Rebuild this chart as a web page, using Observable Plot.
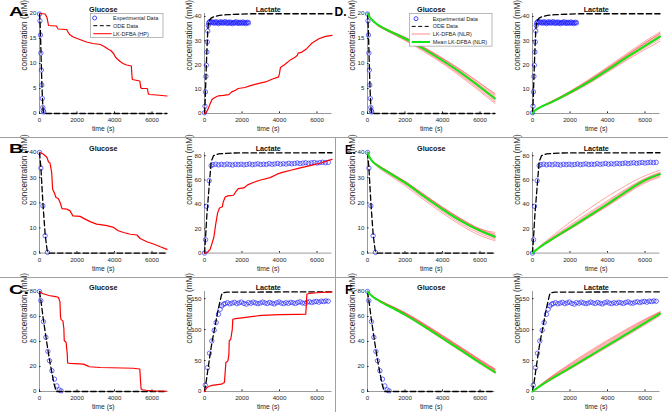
<!DOCTYPE html>
<html><head><meta charset="utf-8">
<script src="https://cdn.jsdelivr.net/npm/d3@7"></script>
<script src="https://cdn.jsdelivr.net/npm/@observablehq/plot@0.6"></script>
<style>
body{margin:0;background:#fff;}
#fig{position:relative;width:668px;height:412px;overflow:hidden;font-family:"Liberation Sans",Arial,sans-serif;background:#fff;}
</style></head><body><div id="fig"></div>
<script>
// ================= DATA =================
// Tick labels
const xTicks = [0, 2000, 4000, 6000];
const yTicksGlc20 = [0, 5, 10, 15, 20];
const yTicksLac20 = [0, 10, 20, 30, 40];
const yTicksGlc40 = [0, 10, 20, 30, 40];
const yTicksLac40 = [0, 20, 40, 60, 80];
const yTicksGlc80 = [0, 20, 40, 60, 80];
const yTicksLac80 = [0, 50, 100, 150];
const titles = ["Glucose", "Lactate"];
const panelLetters = ["A.", "B.", "C.", "D.", "E.", "F."];
const legendHP = ["Experimental Data", "ODE Data", "LK-DFBA (HP)"];
const legendNLR = ["Experimental Data", "ODE Data", "LK-DFBA (NLR)", "Mean LK-DFBA (NLR)"];

// Experimental data, 20 mM
const expGlc20T = [0,25,50,75,100,125,150,175,200,225];
const expGlc20V = [19.9,18.5,15.7,12.1,8.7,5.7,3.0,1.2,0.6,0.3];
const expLac20T = [0,25,50,75,100,125,150,175,200,225,250,300,350,400,450,500,550,600,650,700,750,800,850,900,950,1000,1050,1100,1150,1200,1250,1300,1350,1400,1450,1500,1550,1600,1650,1700,1750,1800,1850,1900,1950,2000,2050,2100,2150,2200,2250,2300,2350];
const expLac20V = [0.3,3.0,8.9,15.3,19.9,25.3,29.5,34.0,36.3,37.2,
  37.6,37.9,37.4,37.8,37.5,37.2,37.7,37.3,37.8,37.4,
  37.0,37.5,37.8,37.3,37.6,37.2,37.5,37.9,37.4,37.1,
  37.6,37.3,37.7,37.2,37.5,37.0,37.4,37.6,37.3,37.8,
  37.2,37.5,37.1,37.6,37.4,37.2,37.7,37.3,37.5,37.0,
  37.4,37.6,37.3];
// Experimental data, 40 mM
const expGlc40T = [0,75,180,300,425];
const expGlc40V = [40,33.8,18.8,6.9,0.3];
const expLac40T = [0,55,110,250,355,450,600,750,900,1050,1200,1350,1500,1650,1800,1950,2100,2250,2400,2550,2700,2850,3000,3150,3300,3450,3600,3750,3900,4050,4200,4350,4500,4650,4800,4950,5100,5250,5400,5550,5700,5850,6000,6150,6300,6450,6600];
const expLac40V = [0,11,38.4,59.5,71.8,
  72.6,73.0,72.4,72.9,72.5,73.1,72.7,72.3,72.9,72.6,
  73.0,72.5,72.8,73.2,72.6,72.9,73.3,72.7,73.0,72.8,
  73.4,72.9,73.2,73.6,73.0,73.4,73.1,73.7,73.3,73.6,
  74.0,73.5,73.9,74.2,73.7,74.1,74.4,73.9,74.3,74.6,
  74.2,74.5];
// Experimental data, 80 mM
const expGlc80T = [0,70,210,340,445,535,660,800,925,1050,1155];
const expGlc80V = [80,72.7,55.9,43.3,32.1,24.6,16.6,9.9,4.5,1.3,0.5];
const expLac80T = [40,160,265,390,515,620,745,835,925,1015,1100,1225,1350,1475,1600,1725,1850,1975,2100,2225,2350,2475,2600,2725,2850,2975,3100,3225,3350,3475,3600,3725,3850,3975,4100,4225,4350,4475,4600,4725,4850,4975,5100,5225,5350,5475,5600,5725,5850,5975,6100,6225,6350,6475,6600];
const expLac80V = [10.2,38.7,61.8,81.7,98.9,111.3,124.7,132.8,138.2,140.9,
  142.0,143.5,141.5,142.8,144.0,141.8,143.2,144.5,142.3,141.0,
  143.6,142.5,144.2,143.0,141.8,142.9,144.4,143.1,142.0,143.8,
  142.6,141.5,143.3,144.6,142.8,141.9,143.5,142.4,144.0,143.2,
  142.1,143.9,144.8,143.0,142.5,144.2,145.0,143.6,144.8,145.5,
  144.2,146.0,145.2,146.3,145.8];

// ODE data
const odeGlc20T = [0,25,50,75,100,125,150,175,200,225,250,6800];
const odeGlc20V = [20,18.7,16.3,12.8,9.3,6.2,3.6,1.6,0.5,0.1,0,0];
const odeLac20T = [0,25,50,75,100,125,150,175,200,250,350,500,800,1200,1800,2500,6800];
const odeLac20V = [0,3,8.5,14.5,20,25.5,30,34,36.5,38.3,39.3,39.9,40.4,40.7,40.9,41.1,41.1];
const odeGlc40T = [0,75,180,300,400,460,6800];
const odeGlc40V = [40,34,20,7.5,1.5,0,0];
const odeLac40T = [0,60,125,250,355,480,750,1500,6800];
const odeLac40V = [0,14,31,55,75,80,81.4,82.2,82.4];
const odeGlc80T = [0,100,200,340,450,550,660,780,890,6800];
const odeGlc80V = [80,70,58,44,33,24,15,6,0,0];
const odeLac80T = [0,100,250,400,550,700,800,900,950,1200,6800];
const odeLac80V = [0,18,50,80,103,128,142,155,159.5,160.5,161];

// LK-DFBA (HP)
const hpGlc20T = [0,300,400,450,480,900,960,1000,1450,1520,1600,1800,2150,2500,2850,3250,3450,3650,3800,3950,4050,4150,4300,4450,4650,4900,4920,4950,5350,5400,5450,5750,5800,5850,6250,6800];
const hpGlc20V = [20,19.9,19.2,18.2,17.6,17.5,17.1,16.9,16.8,16.3,15.8,15.3,14.8,14.3,14.0,13.8,13.4,12.9,12.6,12.0,11.3,10.9,10.4,10.0,9.7,9.5,8.0,6.8,6.5,5.2,5.0,5.0,4.0,3.8,3.7,3.5];
const hpLac20T = [0,100,200,300,400,550,750,1000,1300,1450,1650,1800,2150,2500,2850,3250,3600,3950,4000,4050,4300,4550,4850,4950,5000,5200,5450,5700,6100,6450,6800];
const hpLac20V = [0,0.5,2.0,4.0,5.8,6.6,7.3,7.5,7.8,8.9,9.6,10.3,10.7,11.6,12.3,13.0,14.1,15.1,16.5,19.0,20.3,21.9,23.3,24.0,24.9,25.3,26.7,28.8,30.8,31.8,32.2];
const hpGlc40T = [0,200,400,480,560,650,700,780,880,1000,1100,1200,1450,1630,1780,2170,2430,2700,3050,3600,3950,4200,4480,4850,5200,5370,5720,6080,6440,6800];
const hpGlc40V = [40,39.4,38,36.2,35.8,32,25.4,24.2,22.1,21.7,20.1,17.7,17.5,16.8,14.8,14.6,13.5,12.5,11.5,10.9,10.2,8.9,8.2,7.5,7.2,5.8,4.5,3.6,2.5,1.5];
const hpLac40T = [0,150,300,400,500,600,700,800,950,1000,1100,1250,1550,1650,1800,2100,2300,2600,3000,3500,3900,4200,4600,5000,5400,5800,6200,6500,6800];
const hpLac40V = [0,0.5,3,8,13,24,33,37,38,42,46,47,47.5,50,53,53.5,56,58,60,62,65,66.5,68,69.5,71,72.5,74,75.5,77];
const hpGlc80T = [0,200,500,850,1000,1090,1120,1150,1250,1300,1320,1420,1480,1500,1650,2350,2600,2650,3250,5000,5350,5380,5420,5500,5700,6000,6800];
const hpGlc80V = [79.5,78.2,76.8,75.9,75.4,72,60,57.5,56.5,50,40.8,39.3,30,22.8,22.5,21.9,20.3,19.8,19.2,18.6,18.0,10,2.0,1.4,1.0,0.6,0.2];
const hpLac80T = [0,120,250,400,600,900,1060,1100,1140,1250,1300,1320,1400,1480,1510,1640,2000,2500,3050,4000,5000,5400,5430,5460,5600,6000,6800];
const hpLac80V = [0,6,8.5,10,10.8,11.8,14.5,30,46.8,49.5,60,81.7,84.4,100,116.7,117.7,119,121,123,124,124.7,125,140,157,158.6,159.5,160.8];

// LK-DFBA (NLR) : sample times, individual runs and mean
const nlrT = [0,100,250,500,1000,1500,2000,3000,4000,5000,6000,6800];
const nlrGlc20Mean = [20,19.4,18.7,17.9,16.8,15.9,15.0,12.9,10.6,8.1,5.3,3.0];
const nlrGlc20Runs = [
  [20,19.4,18.7,17.9,16.9,16.0,15.2,13.2,11.0,8.6,6.0,4.0],
  [20,19.4,18.7,17.9,16.9,16.0,15.1,13.1,10.9,8.4,5.7,3.6],
  [20,19.4,18.7,17.9,16.8,15.9,15.0,13.0,10.7,8.2,5.5,3.3],
  [20,19.4,18.7,17.8,16.8,15.9,15.0,12.9,10.6,8.0,5.2,2.9],
  [20,19.4,18.6,17.8,16.7,15.8,14.9,12.8,10.4,7.8,5.0,2.6],
  [20,19.3,18.6,17.7,16.6,15.7,14.7,12.6,10.2,7.6,4.7,2.3],
  [20,19.3,18.6,17.7,16.6,15.6,14.6,12.4,10.0,7.3,4.4,2.0],
  [20,19.4,18.7,17.9,16.9,16.1,15.3,13.3,11.1,8.7,6.1,3.8]];
const nlrLac20Mean = [0,1.0,1.9,2.9,4.6,6.5,8.6,13.0,17.9,23.0,27.9,31.7];
const nlrLac20Runs = [
  [0,1.0,1.9,3.0,5.0,7.0,9.2,14.0,19.2,24.5,29.8,33.6],
  [0,1.0,1.9,3.0,4.9,6.9,9.0,13.7,18.8,24.0,29.2,32.9],
  [0,1.0,1.9,2.9,4.8,6.7,8.8,13.4,18.4,23.6,28.7,32.4],
  [0,1.0,1.9,2.9,4.7,6.6,8.7,13.1,18.1,23.2,28.2,32.0],
  [0,1.0,1.9,2.9,4.6,6.5,8.5,12.9,17.8,22.8,27.7,31.4],
  [0,1.0,1.8,2.8,4.5,6.3,8.3,12.6,17.4,22.3,27.1,30.7],
  [0,0.9,1.8,2.8,4.4,6.2,8.1,12.3,17.0,21.8,26.4,29.8],
  [0,1.0,1.9,3.0,4.9,6.8,8.9,13.5,18.6,23.8,29.0,33.1]];
const nlrGlc40Mean = [40,38.2,36.6,35.0,32.6,30.3,28.0,22.6,17.4,12.7,8.9,6.5];
const nlrGlc40Runs = [
  [40,38.3,36.8,35.3,33.0,30.8,28.6,23.4,18.3,13.6,9.6,7.6],
  [40,38.3,36.7,35.2,32.9,30.6,28.4,23.1,18.0,13.3,9.3,7.2],
  [40,38.2,36.7,35.1,32.7,30.4,28.1,22.8,17.6,12.9,9.0,6.9],
  [40,38.2,36.6,35.0,32.6,30.3,28.0,22.6,17.4,12.6,8.8,6.3],
  [40,38.2,36.6,35.0,32.5,30.2,27.9,22.5,17.2,12.4,8.5,6.0],
  [40,38.1,36.5,34.8,32.2,29.8,27.4,21.9,16.6,11.7,7.8,5.5],
  [40,38.0,36.3,34.5,31.8,29.3,26.8,21.2,15.9,11.0,7.0,4.9],
  [40,38.3,36.8,35.3,33.0,30.7,28.5,23.3,18.2,13.5,9.7,8.2]];
const nlrLac40Mean = [0,1.4,3.2,6.0,11.0,15.9,20.6,30.4,40.3,50.6,59.9,64.8];
const nlrLac40Runs = [
  [0,1.6,3.8,7.2,13.4,19.5,25.4,36.2,46.5,55.6,63.5,68.0],
  [0,1.5,3.4,6.4,11.8,17.0,22.0,32.0,42.0,52.0,60.8,65.8],
  [0,1.4,3.3,6.2,11.3,16.3,21.1,31.0,40.9,51.1,60.3,65.3],
  [0,1.4,3.2,6.0,11.0,15.9,20.6,30.4,40.2,50.5,59.8,64.8],
  [0,1.4,3.2,5.9,10.8,15.6,20.2,29.9,39.6,49.8,59.2,64.2],
  [0,1.3,3.1,5.8,10.6,15.3,19.9,29.5,39.1,49.2,58.5,63.4],
  [0,1.3,3.0,5.7,10.4,15.0,19.5,29.0,38.5,48.4,57.6,62.4],
  [0,1.5,3.5,6.6,12.3,17.8,23.0,33.2,43.0,52.8,61.4,66.3]];
const nlrGlc80Mean = [80,78.3,76.2,73.6,69.3,65.6,61.4,52.3,42.6,32.9,23.0,15.5];
const nlrGlc80Runs = [
  [80,78.4,76.5,74.2,70.4,67.0,63.2,54.5,45.0,35.4,25.6,18.2],
  [80,78.4,76.4,74.0,70.0,66.5,62.6,53.8,44.3,34.6,24.8,17.4],
  [80,78.3,76.3,73.8,69.7,66.1,62.1,53.1,43.5,33.8,24.0,16.6],
  [80,78.3,76.2,73.6,69.4,65.7,61.6,52.5,42.8,33.1,23.3,15.8],
  [80,78.3,76.2,73.5,69.2,65.4,61.2,52.0,42.3,32.6,22.7,15.2],
  [80,78.2,76.1,73.4,69.0,65.1,60.9,51.6,41.8,32.0,22.1,14.5],
  [80,78.4,76.4,74.1,70.2,66.7,62.9,54.1,44.6,35.0,25.2,17.8],
  [80,78.3,76.3,73.9,69.8,66.3,62.3,53.4,43.9,34.2,24.4,17.0]];
const nlrLac80Mean = [0,2.5,5.6,10.6,20.2,29.2,38.1,56.3,74.5,92.6,110.8,125.5];
const nlrLac80Runs = [
  [0,3.0,6.8,12.8,24.2,34.8,45.0,64.5,83.0,100.5,117.0,129.0],
  [0,2.8,6.3,11.9,22.6,32.6,42.3,61.2,79.6,97.4,114.6,127.6],
  [0,2.7,6.1,11.4,21.7,31.3,40.7,59.3,77.6,95.6,113.1,126.8],
  [0,2.6,5.8,11.0,20.9,30.2,39.3,57.7,75.9,94.0,111.8,126.2],
  [0,2.5,5.6,10.6,20.2,29.2,38.1,56.3,74.4,92.5,110.6,125.3],
  [0,2.4,5.4,10.2,19.5,28.3,37.0,55.0,73.0,91.0,109.2,124.0],
  [0,2.3,5.2,9.9,18.9,27.5,36.0,53.8,71.6,89.5,107.6,122.4],
  [0,2.9,6.5,12.3,23.4,33.7,43.6,62.8,81.3,99.0,115.8,128.3]];

// ================= LAYOUT & STYLE =================
const colX = [39.3, 204.3, 367, 531.7];   // x pixel of the frame's left edge
const rowTop = [13.3, 151.7, 291];          // frame top
const rowBot = [113.3, 252.3, 391];         // frame bottom
const frameW = 127.5;
const xMax = 6800;
const ylabDy = [7, 2, 2];
const FONT = '"Liberation Sans", Arial, sans-serif';
const C = {exp: "#1a1aff", ode: "#000", hp: "#ff0000", nlr: "#ff2020", mean: "#12e612", axis: "#9a9a9a", text: "#262626"};

function rows(ts, vs) { const n = Math.min(ts.length, vs.length); const r = []; for (let i = 0; i < n; i++) r.push({t: ts[i], v: vs[i]}); return r; }
function runRows(runs) { const r = []; runs.forEach((vs, k) => vs.forEach((v, i) => r.push({t: nlrT[i], v, k}))); return r; }

const fig = document.getElementById("fig");

function makePanel(p) {
  const ML = 44, MT = 16, MR = 4, MB = 26;
  const fh = rowBot[p.row] - rowTop[p.row];
  const marks = [
    Plot.ruleX([0], {stroke: C.axis, strokeWidth: 1}),
    Plot.ruleY([0], {stroke: C.axis, strokeWidth: 1}),
    Plot.axisX(xTicks, {tickSize: -1.6, tickPadding: 6, fontSize: 6.2, color: C.text, tickFormat: d3.format("d"), label: null}),
    Plot.axisY(p.yTicks, {tickSize: -1.6, tickPadding: 4.6, fontSize: 6.2, color: C.text, tickFormat: d3.format("d"), label: null}),
    Plot.dot(p.exp, {x: "t", y: "v", r: 2.2, stroke: C.exp, strokeWidth: 0.8, strokeOpacity: 0.8, fill: "none"}),
    Plot.line(p.ode, {x: "t", y: "v", stroke: C.ode, strokeWidth: 1.3, strokeDasharray: "5.5,3"})
  ];
  if (p.hp) marks.push(Plot.line(p.hp, {x: "t", y: "v", stroke: C.hp, strokeWidth: 1.2, curve: "linear"}));
  if (p.runs) marks.push(Plot.line(p.runs, {x: "t", y: "v", z: "k", stroke: C.nlr, strokeOpacity: 0.45, strokeWidth: 0.9, curve: "monotone-x"}));
  if (p.mean) marks.push(Plot.line(p.mean, {x: "t", y: "v", stroke: C.mean, strokeWidth: 2, curve: "monotone-x"}));
  marks.push(
    Plot.text([p.title], {text: d => d, frameAnchor: "top", dy: -6.5, fontSize: 7.2, fontWeight: "bold", fill: "#111"}),
    Plot.text(["time (s)"], {text: d => d, frameAnchor: "bottom", dy: 17.5, fontSize: 6.8, fill: C.text}),
    Plot.text(["concentration (mM)"], {text: d => d, frameAnchor: "left", dx: -15, dy: ylabDy[p.row], rotate: -90, fontSize: 8.2, fill: C.text})
  );
  const svg = Plot.plot({
    width: frameW + ML + MR,
    height: fh + MT + MB,
    marginLeft: ML, marginRight: MR, marginTop: MT, marginBottom: MB,
    x: {domain: [0, xMax]},
    y: {domain: [0, p.ymax]},
    style: {fontFamily: FONT, fontSize: "6.2px", background: "none", overflow: "visible", color: C.text},
    marks
  });
  svg.style.position = "absolute";
  svg.style.left = (colX[p.col] - ML) + "px";
  svg.style.top = (rowTop[p.row] - MT) + "px";
  svg.style.maxWidth = "none";
  fig.appendChild(svg);
}

const panels = [
  {col: 0, row: 0, title: titles[0], ymax: 20, yTicks: yTicksGlc20, exp: rows(expGlc20T, expGlc20V), ode: rows(odeGlc20T, odeGlc20V), hp: rows(hpGlc20T, hpGlc20V)},
  {col: 1, row: 0, title: titles[1], ymax: 41.2, yTicks: yTicksLac20, exp: rows(expLac20T, expLac20V), ode: rows(odeLac20T, odeLac20V), hp: rows(hpLac20T, hpLac20V)},
  {col: 0, row: 1, title: titles[0], ymax: 40, yTicks: yTicksGlc40, exp: rows(expGlc40T, expGlc40V), ode: rows(odeGlc40T, odeGlc40V), hp: rows(hpGlc40T, hpGlc40V)},
  {col: 1, row: 1, title: titles[1], ymax: 82.6, yTicks: yTicksLac40, exp: rows(expLac40T, expLac40V), ode: rows(odeLac40T, odeLac40V), hp: rows(hpLac40T, hpLac40V)},
  {col: 0, row: 2, title: titles[0], ymax: 80, yTicks: yTicksGlc80, exp: rows(expGlc80T, expGlc80V), ode: rows(odeGlc80T, odeGlc80V), hp: rows(hpGlc80T, hpGlc80V)},
  {col: 1, row: 2, title: titles[1], ymax: 161.5, yTicks: yTicksLac80, exp: rows(expLac80T, expLac80V), ode: rows(odeLac80T, odeLac80V), hp: rows(hpLac80T, hpLac80V)},
  {col: 2, row: 0, title: titles[0], ymax: 20, yTicks: yTicksGlc20, exp: rows(expGlc20T, expGlc20V), ode: rows(odeGlc20T, odeGlc20V), runs: runRows(nlrGlc20Runs), mean: rows(nlrT, nlrGlc20Mean)},
  {col: 3, row: 0, title: titles[1], ymax: 41.2, yTicks: yTicksLac20, exp: rows(expLac20T, expLac20V), ode: rows(odeLac20T, odeLac20V), runs: runRows(nlrLac20Runs), mean: rows(nlrT, nlrLac20Mean)},
  {col: 2, row: 1, title: titles[0], ymax: 40, yTicks: yTicksGlc40, exp: rows(expGlc40T, expGlc40V), ode: rows(odeGlc40T, odeGlc40V), runs: runRows(nlrGlc40Runs), mean: rows(nlrT, nlrGlc40Mean)},
  {col: 3, row: 1, title: titles[1], ymax: 82.6, yTicks: yTicksLac40, exp: rows(expLac40T, expLac40V), ode: rows(odeLac40T, odeLac40V), runs: runRows(nlrLac40Runs), mean: rows(nlrT, nlrLac40Mean)},
  {col: 2, row: 2, title: titles[0], ymax: 80, yTicks: yTicksGlc80, exp: rows(expGlc80T, expGlc80V), ode: rows(odeGlc80T, odeGlc80V), runs: runRows(nlrGlc80Runs), mean: rows(nlrT, nlrGlc80Mean)},
  {col: 3, row: 2, title: titles[1], ymax: 161.5, yTicks: yTicksLac80, exp: rows(expLac80T, expLac80V), ode: rows(odeLac80T, odeLac80V), runs: runRows(nlrLac80Runs), mean: rows(nlrT, nlrLac80Mean)}
];
panels.forEach(makePanel);

// ================= LEGENDS =================
function legend(x, y, w, h, rowsY, lineX0, lineX1, circX, textX, labels, kinds) {
  const svg = d3.create("svg").attr("width", w).attr("height", h)
    .style("position", "absolute").style("left", x + "px").style("top", y + "px").style("overflow", "visible");
  svg.append("rect").attr("x", 0.3).attr("y", 0.3).attr("width", w - 0.6).attr("height", h - 0.6)
    .attr("fill", "#fff").attr("stroke", "#8a8a8a").attr("stroke-width", 0.6);
  labels.forEach((lab, i) => {
    const yy = rowsY[i], k = kinds[i];
    if (k === "exp") svg.append("circle").attr("cx", circX).attr("cy", yy).attr("r", 2).attr("fill", "none").attr("stroke", C.exp).attr("stroke-width", 0.8);
    else if (k === "ode") svg.append("line").attr("x1", lineX0).attr("x2", lineX1).attr("y1", yy).attr("y2", yy).attr("stroke", "#000").attr("stroke-width", 1).attr("stroke-dasharray", "4,2.5");
    else if (k === "hp") svg.append("line").attr("x1", lineX0).attr("x2", lineX1).attr("y1", yy).attr("y2", yy).attr("stroke", C.hp).attr("stroke-width", 1);
    else if (k === "nlr") svg.append("line").attr("x1", lineX0).attr("x2", lineX1).attr("y1", yy).attr("y2", yy).attr("stroke", "#ff8c8c").attr("stroke-width", 1);
    else if (k === "mean") svg.append("line").attr("x1", lineX0).attr("x2", lineX1).attr("y1", yy).attr("y2", yy).attr("stroke", C.mean).attr("stroke-width", 2);
    svg.append("text").attr("x", textX).attr("y", yy).attr("dy", "0.35em").attr("font-size", 5.5)
      .attr("font-family", FONT).attr("fill", "#222").text(lab);
  });
  fig.appendChild(svg.node());
}
legend(90, 13.3, 73.3, 25, [5, 12.7, 20.7], 3.3, 21.7, 4.6, 23, legendHP, ["exp", "ode", "hp"]);
legend(409, 13.3, 83.3, 33.4, [5.7, 13.4, 21, 29], 2.7, 21, 7, 23.7, legendNLR, ["exp", "ode", "nlr", "mean"]);

// ================= SEPARATORS & PANEL LETTERS =================
const ov = d3.create("svg").attr("width", 668).attr("height", 412)
  .style("position", "absolute").style("left", "0px").style("top", "0px").style("pointer-events", "none");
[137.5, 277.5].forEach(yy => ov.append("line").attr("x1", 0).attr("x2", 668).attr("y1", yy).attr("y2", yy).attr("stroke", "#a0a0a0").attr("stroke-width", 1));
ov.append("line").attr("x1", 335.5).attr("x2", 335.5).attr("y1", 137.5).attr("y2", 412).attr("stroke", "#a0a0a0").attr("stroke-width", 1);
// [x, baseline y, text length]
const letterPos = [[9, 15.5, 20], [9, 152.5, 20], [9, 293.5, 20], [334.5, 15.5, 12], [345, 153.5, 10.5], [345, 293.5, 10]];
panelLetters.forEach((L, i) => {
  const [lx, ly, tl] = letterPos[i];
  ov.append("text").attr("x", lx).attr("y", ly).attr("font-size", 13.5).attr("font-weight", "bold")
    .attr("font-family", FONT).attr("fill", "#000").attr("textLength", tl).attr("lengthAdjust", "spacingAndGlyphs").text(L);
});
fig.appendChild(ov.node());
</script></body></html>
